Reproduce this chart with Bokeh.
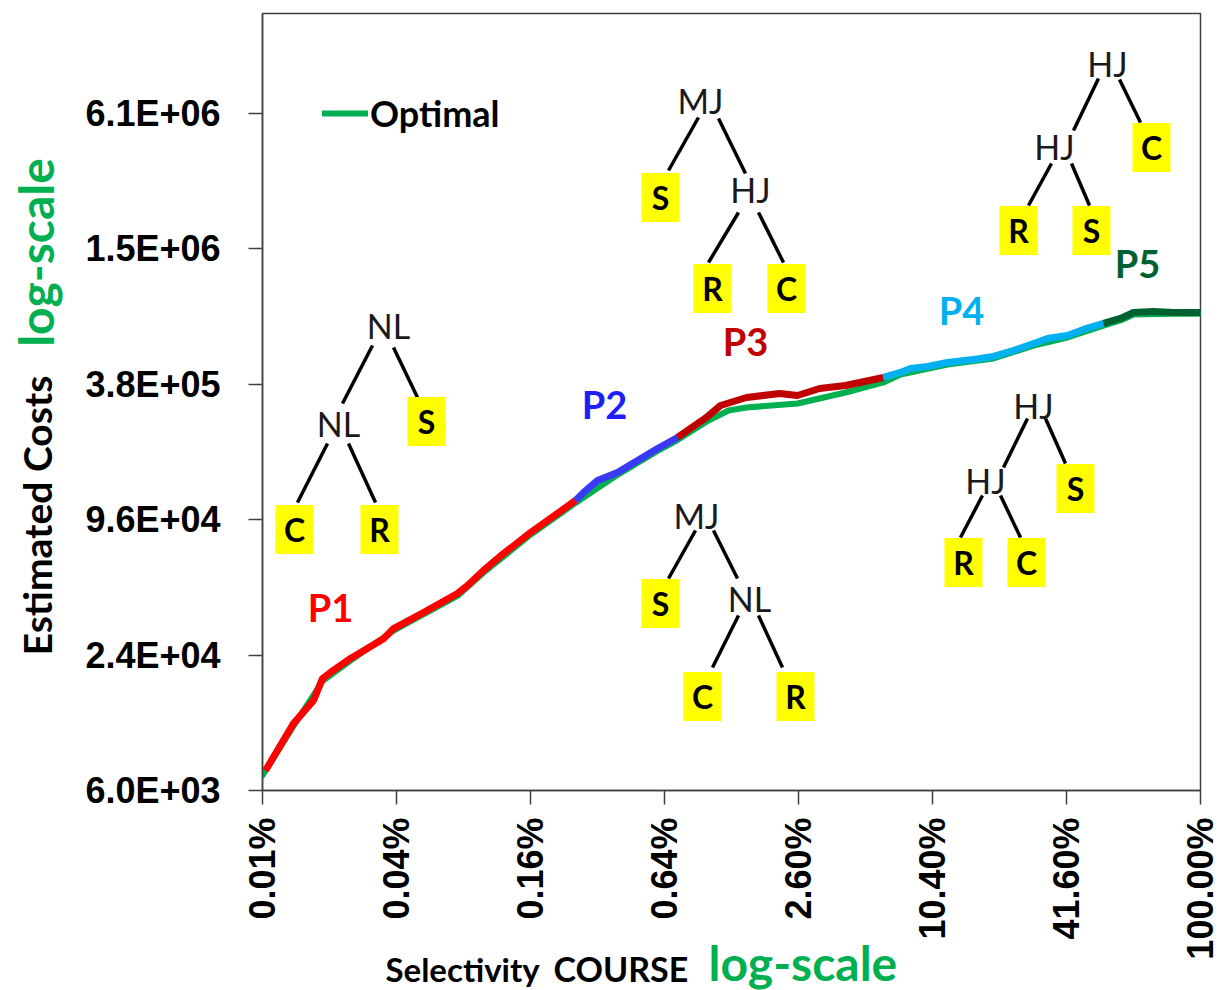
import math
from bokeh.plotting import figure
from bokeh.models import (Range1d, LinearScale, FixedTicker, Label, Legend, LegendItem)
from bokeh.embed import file_html
from bokeh.resources import INLINE
from bokeh.core.properties import value

# ---------------- data ----------------
x_tick_pos = [0, 1, 2, 3, 4, 5, 6, 7]
x_tick_labels = ["0.01%", "0.04%", "0.16%", "0.64%", "2.60%", "10.40%", "41.60%", "100.00%"]
y_ticks = [6000, 24000, 96000, 384000, 1536000, 6144000]
y_tick_labels = ["6.0E+03", "2.4E+04", "9.6E+04", "3.8E+05", "1.5E+06", "6.1E+06"]

# x given as position on the log4 selectivity axis (0 = 0.01%, 7 = 100%)
p1_x = [0.022, 0.231, 0.381, 0.448, 0.507, 0.657, 0.903, 0.978, 1.201, 1.455, 1.530, 1.649, 1.799, 2.0, 2.149, 2.336]
p1_y = [7360, 11900, 15100, 18900, 20100, 23200, 28400, 31500, 37100, 45100, 48900, 57100, 67900, 84200, 97200, 116900]
p2_x = [2.336, 2.396, 2.500, 2.649, 2.799, 2.948, 3.097]
p2_y = [116900, 126900, 143400, 155700, 176100, 199000, 222800]
p3_x = [3.097, 3.313, 3.418, 3.612, 3.858, 3.993, 4.157, 4.351, 4.634]
p3_y = [222800, 273400, 309100, 335500, 349500, 342400, 367900, 379400, 411800]
p4_x = [4.634, 4.761, 4.836, 4.963, 5.112, 5.306, 5.455, 5.604, 5.754, 5.858, 6.007, 6.127, 6.276]
p4_y = [411800, 433400, 451600, 460900, 480200, 495100, 510600, 542900, 583300, 613800, 633000, 673200, 715800]
p5_x = [6.276, 6.403, 6.500, 6.649, 6.799, 7.0]
p5_y = [715800, 753600, 801000, 809400, 801000, 801000]

opt_x = [0.0, 0.231, 0.448, 0.657, 0.978, 1.455, 1.649, 2.0, 2.336, 2.649, 2.948, 3.097, 3.313, 3.478,
         3.612, 3.993, 4.351, 4.634, 4.761, 5.112, 5.455, 5.754, 6.007, 6.276, 6.403, 6.500, 6.799, 7.0]
opt_y = [7000, 11600, 18400, 22700, 30800, 44000, 55800, 82300, 114000, 152000, 194000, 217000, 262000, 293700,
         302800, 315500, 353100, 391300, 424000, 470000, 500000, 571000, 620000, 700000, 738000, 785000, 790000, 790000]

plan_names = ["P1", "P2", "P3", "P4", "P5"]

# ---------------- styles ----------------
plan_colors = ["#FF0000", "#3A3AF4", "#C00000", "#00B0F0", "#006130"]
label_colors = ["#FF0000", "#1F1FF5", "#C00000", "#00B0F0", "#006130"]
opt_color = "#00B050"

W, H = 1220, 990
FL, FR, FT, FB = 262, 1200, 13, 790  # frame edges in page pixels

p = figure(width=W, height=H, output_backend="svg", toolbar_location=None,
           y_axis_type="log", x_range=Range1d(0, 7), y_range=Range1d(6000, 6144000 * 4 ** ((113 - FT) / 135.4)),
           min_border_left=FL, min_border_right=W - FR, min_border_top=FT, min_border_bottom=H - FB)
p.extra_x_ranges = {"px": Range1d(FL, FR)}
p.extra_x_scales = {"px": LinearScale()}
p.extra_y_ranges = {"py": Range1d(FB, FT)}
p.extra_y_scales = {"py": LinearScale()}

p.grid.visible = False
p.outline_line_color = "#404040"
p.outline_line_width = 1.5
p.background_fill_color = "white"
p.border_fill_color = "white"

lab_font = "Liberation Sans"
p.xaxis.ticker = FixedTicker(ticks=x_tick_pos)
p.xaxis.major_label_overrides = {t: l for t, l in zip(x_tick_pos, x_tick_labels)}
p.xaxis.major_label_orientation = math.pi / 2
p.xaxis.major_label_standoff = 13
p.yaxis.ticker = FixedTicker(ticks=y_ticks)
p.yaxis.major_label_overrides = {t: l for t, l in zip(y_ticks, y_tick_labels)}
p.yaxis.major_label_standoff = 28
for ax in (p.xaxis, p.yaxis):
    ax.major_label_text_font = lab_font
    ax.major_label_text_font_style = "bold"
    ax.major_label_text_font_size = "36px"
    ax.major_label_text_color = "black"
    ax.major_tick_out = 14
    ax.major_tick_in = 0
    ax.minor_tick_line_color = None
    ax.axis_line_color = "#404040"
    ax.axis_line_width = 1.5
    ax.major_tick_line_color = "#404040"
    ax.major_tick_line_width = 1.5

# ---------------- curves ----------------
opt_r = p.line(opt_x, opt_y, line_color=opt_color, line_width=6, line_join="round", line_cap="round")
for xs, ys, c in zip([p1_x, p2_x, p3_x, p4_x, p5_x], [p1_y, p2_y, p3_y, p4_y, p5_y], plan_colors):
    p.line(xs, ys, line_color=c, line_width=7, line_join="round")

legend = Legend(items=[LegendItem(label="Optimal", renderers=[opt_r])], location=(60, 655),
                glyph_width=46, glyph_height=30, label_height=30, label_standoff=2, padding=0, margin=0,
                border_line_alpha=0, background_fill_alpha=0,
                label_text_font="Lato", label_text_font_style="bold", label_text_font_size="36px",
                label_text_color="black")
p.add_layout(legend)

# ---------------- plan labels ----------------
plan_label_pos = [(330, 606), (604, 403), (745, 340), (961, 309), (1137, 262)]
for name, (lx, ly), c in zip(plan_names, plan_label_pos, label_colors):
    p.add_layout(Label(x=lx, y=ly, x_range_name="px", y_range_name="py", text=name,
                       text_align="center", text_baseline="middle", text_font="Lato",
                       text_font_style="bold", text_font_size="38px", text_color=c))

# ---------------- plan trees (decoration, page-pixel coordinates) ----------------
trees = [
    {"nodes": [("NL", 388, 325), ("NL", 338, 423)],
     "leaves": [("S", 426, 421), ("C", 294, 529), ("R", 379, 529)],
     "edges": [(372, 345, 342, 403), (393, 347, 417, 397), (327, 443, 297, 502), (348, 443, 375, 502)]},
    {"nodes": [("MJ", 700, 100), ("HJ", 750, 189)],
     "leaves": [("S", 660, 197), ("R", 712, 288), ("C", 786, 288)],
     "edges": [(698, 117, 668, 170), (718, 118, 745, 173), (738, 212, 708, 262), (758, 212, 783, 262)]},
    {"nodes": [("HJ", 1107, 63), ("HJ", 1054, 146)],
     "leaves": [("C", 1151, 147), ("R", 1018, 230), ("S", 1091, 230)],
     "edges": [(1098, 78, 1073, 130), (1119, 79, 1140, 122), (1051, 163, 1028, 205), (1071, 163, 1089, 205)]},
    {"nodes": [("HJ", 1033, 405), ("HJ", 985, 480)],
     "leaves": [("S", 1075, 488), ("R", 963, 562), ("C", 1026, 562)],
     "edges": [(1027, 418, 1003, 467), (1045, 418, 1065, 463), (982, 495, 960, 537), (1000, 495, 1020, 537)]},
    {"nodes": [("MJ", 696, 515), ("NL", 749, 598)],
     "leaves": [("S", 660, 603), ("C", 702, 696), ("R", 795, 696)],
     "edges": [(695, 530, 668, 578), (713, 530, 737, 578), (738, 615, 712, 667), (758, 615, 782, 667)]},
]
for t in trees:
    ex0 = [e[0] for e in t["edges"]]; ey0 = [e[1] for e in t["edges"]]
    ex1 = [e[2] for e in t["edges"]]; ey1 = [e[3] for e in t["edges"]]
    p.segment(ex0, ey0, ex1, ey1, x_range_name="px", y_range_name="py", line_color="black", line_width=3.5)
    lx = [l[1] for l in t["leaves"]]; ly = [l[2] for l in t["leaves"]]
    p.rect(lx, ly, width=38, height=49, width_units="screen", height_units="screen",
           x_range_name="px", y_range_name="py", fill_color="#FFFF00", line_color=None)
    p.text(lx, ly, text=[l[0] for l in t["leaves"]], x_range_name="px", y_range_name="py",
           text_align="center", text_baseline="middle", text_font=value("Lato"),
           text_font_style="bold", text_font_size="32px", text_color="black")
    nx = [n[1] for n in t["nodes"]]; ny = [n[2] for n in t["nodes"]]
    p.text(nx, ny, text=[n[0] for n in t["nodes"]], x_range_name="px", y_range_name="py",
           text_align="center", text_baseline="middle", text_font=value("Lato"),
           text_font_size="34px", text_color="#1a1a1a")

# ---------------- axis titles (drawn outside the frame at overlay level) ----------------
def outside_text(x, y, txt, size, color, angle=0.0, align="center", baseline="middle"):
    p.text([x], [y], text=[txt], x_range_name="px", y_range_name="py", angle=angle,
           text_align=align, text_baseline=baseline, text_font=value("Lato"),
           text_font_style="bold", text_font_size=size, text_color=color, level="overlay")

outside_text(36, 515, "Estimated Costs", "39px", "black", angle=math.pi / 2)
outside_text(35, 252, "log-scale", "48px", opt_color, angle=math.pi / 2)
outside_text(385, 968, "Selectivity", "33px", "black", align="left")
outside_text(553, 968, "COURSE", "34px", "black", align="left")
outside_text(708, 962, "log-scale", "48px", opt_color, align="left")

open("out.html", "w").write(file_html(p, INLINE))
